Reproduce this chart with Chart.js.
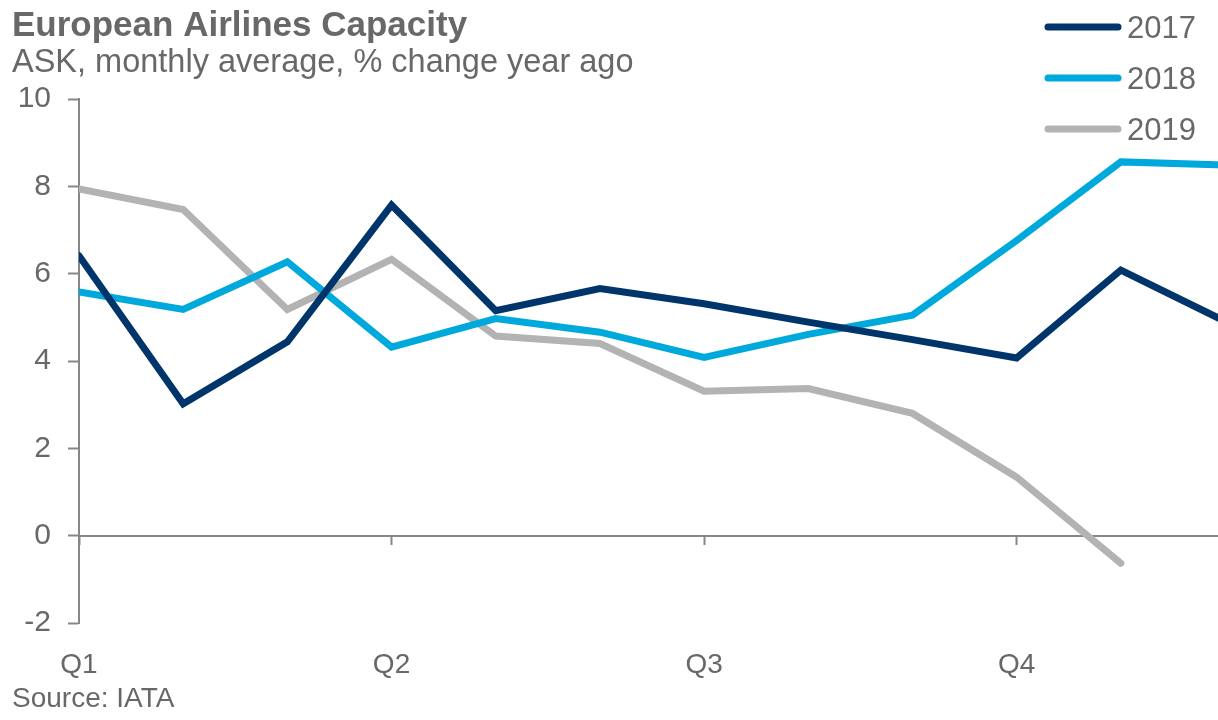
<!DOCTYPE html>
<html>
<head>
<meta charset="utf-8">
<script src="https://cdn.jsdelivr.net/npm/chart.js@4.4.1/dist/chart.umd.min.js"></script>
<style>
  html, body { margin: 0; padding: 0; background: #fff; overflow: hidden; }
  #wrap { position: absolute; left: 0; top: 0; width: 1250px; height: 720px; }
</style>
</head>
<body>
<div id="wrap"><canvas id="myChart" width="1250" height="720"></canvas></div>
<script>
// months of the year, only quarter starts get a label
const months = ['Jan', 'Feb', 'Mar', 'Apr', 'May', 'Jun', 'Jul', 'Aug', 'Sep', 'Oct', 'Nov', 'Dec'];
const quarterTicks = ['Q1', '', '', 'Q2', '', '', 'Q3', '', '', 'Q4', '', ''];

// ASK, % change year ago
const ask2017 = [6.41, 3.02, 4.44, 7.57, 5.15, 5.66, 5.31, 4.89, 4.49, 4.07, 6.08, 4.91];
const ask2018 = [5.58, 5.18, 6.27, 4.32, 4.97, 4.66, 4.08, 4.61, 5.05, 6.76, 8.56, 8.49];
const ask2019 = [7.94, 7.47, 5.18, 6.33, 4.57, 4.40, 3.31, 3.37, 2.80, 1.34, -0.63, null];

const yTicks = [-2, 0, 2, 4, 6, 8, 10];

const titleText = 'European Airlines Capacity';
const subtitleText = 'ASK, monthly average, % change year ago';
const sourceText = 'Source: IATA';

const textColor = '#686868';
const axisColor = '#878787';
const fontFamily = '"Liberation Sans", Arial, sans-serif';

// titles, source note and the legend drawn straight on the canvas
const textPlugin = {
    id: 'texts',
    afterDraw(chart) {
        const ctx = chart.ctx;
        ctx.save();
        ctx.fillStyle = textColor;
        ctx.textBaseline = 'alphabetic';
        ctx.textAlign = 'left';
        ctx.font = 'bold 35px ' + fontFamily;
        ctx.fillText(titleText, 12, 36);
        ctx.font = '32.5px ' + fontFamily;
        ctx.fillText(subtitleText, 12, 72);
        ctx.font = '28px ' + fontFamily;
        ctx.fillText(sourceText, 12, 707);

        ctx.font = '31px ' + fontFamily;
        chart.data.datasets.forEach((ds, i) => {
            const y = 27 + i * 51;
            ctx.strokeStyle = ds.borderColor;
            ctx.lineWidth = 7;
            ctx.lineCap = 'round';
            ctx.beginPath();
            ctx.moveTo(1048, y);
            ctx.lineTo(1118, y);
            ctx.stroke();
            ctx.fillText(ds.label, 1127, y + 11);
        });
        ctx.restore();
    }
};

const lineStyle = {
    borderWidth: 7,
    pointRadius: 0,
    pointHoverRadius: 0,
    tension: 0,
    borderCapStyle: 'round',
    clip: {left: 0, right: 0, top: 10, bottom: 10}
};

new Chart(document.getElementById('myChart').getContext('2d'), {
    type: 'line',
    data: {
        labels: months,
        datasets: [
            Object.assign({label: '2017', data: ask2017, borderColor: '#00356b'}, lineStyle),
            Object.assign({label: '2018', data: ask2018, borderColor: '#00a9dc'}, lineStyle),
            Object.assign({label: '2019', data: ask2019, borderColor: '#b3b3b3'}, lineStyle)
        ]
    },
    options: {
        responsive: false,
        animation: false,
        devicePixelRatio: 1,
        layout: {padding: {left: 0, right: 5, top: 99, bottom: 0}},
        plugins: {
            legend: {display: false},
            tooltip: {enabled: false}
        },
        scales: {
            x: {
                type: 'category',
                position: 'bottom',
                offset: false,
                grid: {display: false, drawTicks: false},
                border: {display: false},
                ticks: {
                    autoSkip: false,
                    maxRotation: 0,
                    padding: 25,
                    color: textColor,
                    font: {family: fontFamily, size: 28},
                    callback: (v, i) => quarterTicks[i]
                },
                afterFit: s => { s.height = 97; }
            },
            // axis line through zero with the quarter tick marks
            x2: {
                type: 'category',
                axis: 'x',
                position: {y: 0},
                offset: false,
                ticks: {display: false, autoSkip: false},
                grid: {
                    drawOnChartArea: false,
                    drawTicks: true,
                    tickLength: 8,
                    tickWidth: 2,
                    tickColor: c => (c.index % 3 === 0 ? axisColor : 'rgba(0,0,0,0)')
                },
                border: {display: true, color: axisColor, width: 2}
            },
            y: {
                min: -2,
                max: 10,
                afterBuildTicks: s => { s.ticks = yTicks.map(v => ({value: v})); },
                grid: {drawOnChartArea: false, tickLength: 11, tickWidth: 2, tickColor: axisColor},
                border: {display: true, color: axisColor, width: 2},
                ticks: {
                    padding: 17,
                    color: textColor,
                    font: {family: fontFamily, size: 30}
                },
                afterFit: s => { s.width = 79; }
            }
        }
    },
    plugins: [textPlugin]
});
</script>
</body>
</html>
